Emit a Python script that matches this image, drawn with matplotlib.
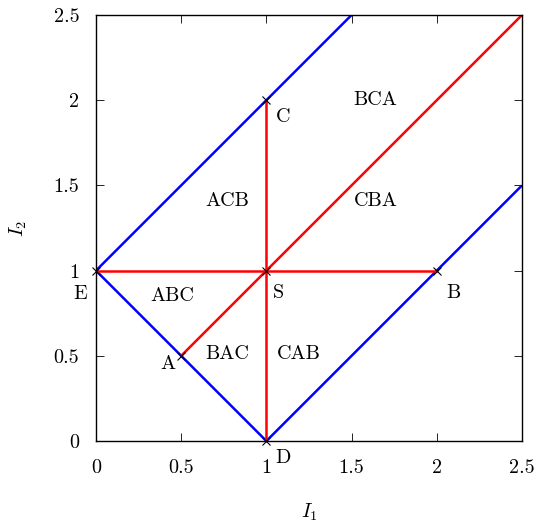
import matplotlib
matplotlib.use('Agg')
import matplotlib.pyplot as plt
import numpy as np

plt.rcParams['font.family'] = ['cmr10', 'DejaVu Serif']
plt.rcParams['mathtext.fontset'] = 'cm'
plt.rcParams['axes.formatter.use_mathtext'] = True
plt.rcParams['font.size'] = 14.5

# blue boundary lines
blue_x = [[0, 1.5], [0, 1], [1, 2.5]]
blue_y = [[1, 2.5], [1, 0], [0, 1.5]]
# red lines
red_x = [[1, 1], [0, 2], [0.5, 2.5], [1, 1]]
red_y = [[1, 2], [1, 1], [0.5, 2.5], [0, 1]]

# marked points
pt_x = [1, 0, 1, 2, 0.5, 1]
pt_y = [2, 1, 1, 1, 0.5, 0]

# region / point labels
lab_text = ['C', 'BCA', 'ACB', 'CBA', 'E', 'ABC', 'S', 'B', 'A', 'BAC', 'CAB', 'D']
lab_x = [1.10, 1.64, 0.77, 1.64, -0.094, 0.446, 1.068, 2.095, 0.42, 0.77, 1.19, 1.10]
lab_y = [1.90, 2.00, 1.41, 1.41, 0.863, 0.851, 0.869, 0.869, 0.45, 0.51, 0.51, -0.10]

ticks = [0, 0.5, 1, 1.5, 2, 2.5]
tick_labels = ['0', '0.5', '1', '1.5', '2', '2.5']

fig = plt.figure(figsize=(5.41, 5.24), dpi=100)
ax = fig.add_axes([0.1774, 0.1584, 0.9649 - 0.1774, 0.9714 - 0.1584])

for xs, ys in zip(blue_x, blue_y):
	ax.plot(xs, ys, color='#0000ff', lw=1.8, solid_capstyle='butt')
for xs, ys in zip(red_x, red_y):
	ax.plot(xs, ys, color='#ff0000', lw=1.8, solid_capstyle='butt')

ax.plot(pt_x, pt_y, 'x', color='black', ms=6, mew=0.8, clip_on=False, zorder=5)

for t, x, y in zip(lab_text, lab_x, lab_y):
	ax.text(x, y, t, ha='center', va='center', fontsize=14.5)

ax.set_xlim(0, 2.5)
ax.set_ylim(0, 2.5)
ax.set_xticks(ticks)
ax.set_xticklabels(tick_labels)
ax.set_yticks(ticks)
ax.set_yticklabels(tick_labels)
ax.tick_params(direction='in', length=6, width=0.6, top=True, right=True, colors='black')
ax.tick_params(axis='x', pad=13)
ax.tick_params(axis='y', pad=12)
for sp in ax.spines.values():
	sp.set_linewidth(1.0)

ax.set_xlabel('$I_1$', fontsize=14.5, labelpad=18)
ax.set_ylabel('$I_2$', fontsize=14.5, labelpad=18)

fig.savefig('out.png', dpi=100)
